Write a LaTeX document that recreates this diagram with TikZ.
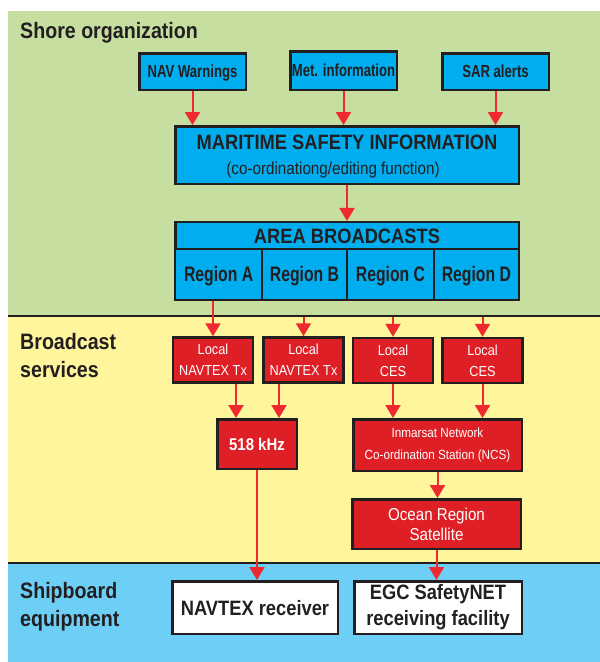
\documentclass[tikz,border=0pt]{standalone}
\usepackage{fontspec}
\setmainfont[FakeStretch=0.88]{Liberation Sans}
\newfontfamily\condfont[FakeStretch=0.75]{Liberation Sans}
\usepackage{xcolor}
\usepackage{tikz}
\usetikzlibrary{arrows.meta}
\definecolor{ShoreGreen}{HTML}{C6DFA0}
\definecolor{BroadYellow}{HTML}{FFF59D}
\definecolor{ShipBlue}{HTML}{6DCFF6}
\definecolor{BoxCyan}{HTML}{00AEEF}
\definecolor{BoxRed}{HTML}{DF1F26}
\definecolor{ArrowRed}{HTML}{EE2A2F}
\definecolor{Ink}{HTML}{231F20}

\begin{document}
\begin{tikzpicture}[
  x=1pt, y=-1pt,
  bandline/.style={draw=Ink, line width=1.2pt},
  section/.style={
    anchor=base west, align=left, inner sep=0pt, text=Ink,
    font=\bfseries\fontsize{22.3}{28}\selectfont
  },
  srcbox/.style={
    draw=Ink, line width=2.5pt, fill=BoxCyan, inner sep=0pt,
    minimum width=106.5pt, minimum height=36.5pt,
    text height=12.5pt, text depth=0pt, text=Ink,
    font=\condfont\bfseries\fontsize{17.5}{20}\selectfont
  },
  cyanbox/.style={
    draw=Ink, line width=2.5pt, fill=BoxCyan, inner sep=0pt, text=Ink
  },
  regionbox/.style={
    cyanbox, minimum height=50.75pt,
    text height=15pt, text depth=0pt,
    font=\condfont\bfseries\fontsize{21}{24}\selectfont
  },
  redbox/.style={
    draw=Ink, line width=2.5pt, fill=BoxRed, inner sep=0pt,
    text=white, align=center
  },
  localbox/.style={
    redbox, minimum width=80pt, minimum height=45pt,
    font=\fontsize{14.5}{20.7}\selectfont
  },
  shipbox/.style={
    draw=Ink, line width=2.5pt, fill=white, inner sep=0pt,
    text=Ink, align=center, minimum width=165.5pt, minimum height=52.5pt,
    font=\bfseries\fontsize{20.8}{26}\selectfont
  },
  arrow/.style={-{Triangle[width=15pt,length=13pt]}, line width=2pt, draw=ArrowRed}
]
\useasboundingbox (0,0) rectangle (600,662);

% bands
\fill[ShoreGreen] (8,11) rectangle (600,316);
\fill[BroadYellow] (8,316) rectangle (600,563);
\fill[ShipBlue] (8,563) rectangle (600,662);
\draw[bandline] (8,316) -- (600,316);
\draw[bandline] (8,563) -- (600,563);
\coordinate (split) at (8,316.5);

% base anchor sits on the last line
\node[section] (shore) at (20,38) {Shore organization};
\node[section] (broad) at (20,377) {Broadcast\\services};
\node[section] (ship) at (20,626) {Shipboard\\equipment};

% shore organization
\node[srcbox] (navw) at (192.5,71.5) {NAV Warnings};
\node[srcbox, minimum height=38.5pt] (metinfo) at (343.5,70.5) {Met. information};
\node[srcbox] (sar) at (495.5,71.5) {SAR alerts};

\node[cyanbox, minimum width=343.5pt, minimum height=57.5pt] (msi) at (347,155) {};
\node[inner sep=0pt, text=Ink, text height=14.9pt, text depth=0pt,
  font=\bfseries\fontsize{20.8}{24}\selectfont] (msititle) at (347,142)
  {MARITIME SAFETY INFORMATION};
\node[inner sep=0pt, text=Ink, text height=12.5pt, text depth=0pt,
  font=\fontsize{17.3}{20}\selectfont] (msisub) at (333,168)
  {(co-ordinationg/editing function)};

\node[cyanbox, minimum width=343.5pt, minimum height=26.75pt,
  text height=14.9pt, text depth=-1.5pt,
  font=\bfseries\fontsize{20.8}{24}\selectfont] (areahead) at (347,235.6)
  {AREA BROADCASTS};
\node[regionbox, minimum width=86.75pt] (regA) at (218.6,274.4) {Region A};
\node[regionbox, minimum width=85pt] (regB) at (304.5,274.4) {Region B};
\node[regionbox, minimum width=87pt] (regC) at (390.5,274.4) {Region C};
\node[regionbox, minimum width=84.75pt] (regD) at (476.4,274.4) {Region D};

% broadcast services
\node[localbox] (navtx1) at (213,360) {Local\\NAVTEX Tx};
\node[localbox] (navtx2) at (303.5,360) {Local\\NAVTEX Tx};
\node[localbox] (ces1) at (393,360.5) {Local\\CES};
\node[localbox] (ces2) at (482.5,360.5) {Local\\CES};

\node[redbox, minimum width=79.5pt, minimum height=49.5pt,
  text height=12.2pt, text depth=0pt,
  font=\bfseries\fontsize{17}{20}\selectfont] (khz) at (257,444) {518 kHz};
\node[redbox, minimum width=168.5pt, minimum height=51.5pt,
  font=\fontsize{13.3}{21.7}\selectfont] (inm) at (437.5,445)
  {Inmarsat Network\\Co-ordination Station (NCS)};
\node[redbox, minimum width=168.5pt, minimum height=49.5pt,
  font=\fontsize{17.2}{19.7}\selectfont] (ocean) at (436.5,524)
  {Ocean Region\\Satellite};

% shipboard equipment
\node[shipbox, text height=15pt, text depth=0pt] (navrx) at (255,607.5) {NAVTEX receiver};
\node[shipbox, minimum width=167.5pt] (egc) at (438,607.5) {EGC SafetyNET\\receiving facility};

\coordinate (khzin1) at ([xshift=-21pt]khz.north);
\coordinate (khzin2) at ([xshift=22pt]khz.north);

\draw[arrow] (navw) -- (navw |- msi.north);
\draw[arrow] (metinfo) -- (metinfo |- msi.north);
\draw[arrow] (sar) -- (sar |- msi.north);
\draw[arrow] (msi) -- (msi |- areahead.north);
\draw[arrow] (regA.south -| navtx1) -- (navtx1);
\draw[arrow] (navtx2 |- split) -- (navtx2);
\draw[arrow] (ces1 |- split) -- (ces1);
\draw[arrow] (ces2 |- split) -- (ces2);
\draw[arrow] (khzin1 |- navtx1.south) -- (khzin1);
\draw[arrow] (khzin2 |- navtx2.south) -- (khzin2);
\draw[arrow] (ces1) -- (ces1 |- inm.north);
\draw[arrow] (ces2) -- (ces2 |- inm.north);
\draw[arrow] (inm) -- (inm |- ocean.north);
\draw[arrow] (khz) -- (khz |- navrx.north);
\draw[arrow] (ocean) -- (ocean |- egc.north);
\end{tikzpicture}
\end{document}
